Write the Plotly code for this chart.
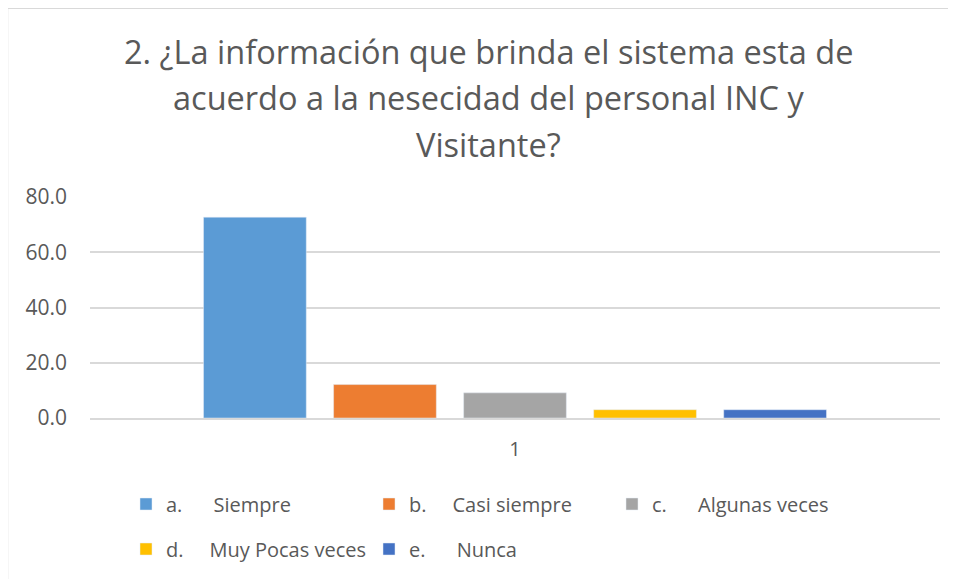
import plotly.graph_objects as go

categories = ["1"]
series_names = ["a.\u00a0\u00a0\u00a0\u00a0\u00a0 Siempre",
                "b.\u00a0\u00a0\u00a0\u00a0 Casi siempre",
                "c.\u00a0\u00a0\u00a0\u00a0\u00a0 Algunas veces",
                "d.\u00a0\u00a0\u00a0\u00a0 Muy Pocas veces",
                "e.\u00a0\u00a0\u00a0\u00a0\u00a0 Nunca"]
series_values = [72.7, 12.1, 9.1, 3.0, 3.0]
colors = ["#5B9BD5", "#ED7D31", "#A5A5A5", "#FFC000", "#4472C4"]
y_ticks = [0, 20, 40, 60, 80]
title_lines = ["2. ¿La información que brinda el sistema esta de",
               "acuerdo a la nesecidad del personal INC y",
               "Visitante?"]

FONT = "Open Sans"
TXT = "#595959"
OFF = 8  # page body margin offset

fig = go.Figure()
for i, (name, val, col) in enumerate(zip(series_names, series_values, colors)):
    fig.add_trace(go.Bar(
        x=categories, y=[val], name=name, marker_color=col,
        legend="legend" if i < 3 else "legend2",
    ))

W, H = 956 - OFF, 579 - OFF
L, R, T = 90 - OFF, 16, 197 - OFF
B = H - (419 - OFF)
pw, ph = W - L - R, H - T - B

def px_x(p):
    return (p - OFF - L) / pw

def px_y(p):
    return (H - B - (p - OFF)) / ph

annotations = []
for line, yc in zip(title_lines, [51, 97, 144]):
    annotations.append(dict(text=line, x=px_x(488), y=px_y(yc), xref="paper", yref="paper",
                            xanchor="center", yanchor="middle", showarrow=False,
                            font=dict(family=FONT, size=32.5, color=TXT)))

legend_common = dict(orientation="h", xanchor="left", yanchor="middle",
                     font=dict(family=FONT, size=20, color=TXT),
                     entrywidth=198, entrywidthmode="pixels",
                     bgcolor="rgba(0,0,0,0)", traceorder="normal")

border = dict(color="#D9D9D9", width=1.5)
fig.update_layout(
    width=W, height=H,
    margin=dict(l=L, r=R, t=T, b=B),
    paper_bgcolor="white", plot_bgcolor="white",
    barmode="group", bargap=0.235, bargroupgap=0.21,
    annotations=annotations,
    legend=dict(x=px_x(126), y=px_y(504), **legend_common),
    legend2=dict(x=px_x(126), y=px_y(549), **legend_common),
    shapes=[
        dict(type="line", xref="paper", yref="paper",
             x0=px_x(7.5), x1=px_x(990), y0=px_y(7.5), y1=px_y(7.5), line=border, layer="below"),
        dict(type="line", xref="paper", yref="paper",
             x0=px_x(7.5), x1=px_x(7.5), y0=px_y(7.5), y1=px_y(600), line=border, layer="below"),
    ],
    xaxis=dict(type="category", showgrid=False, showline=True, linecolor="#D9D9D9", linewidth=1.5,
               ticks="", ticklabelstandoff=12,
               tickfont=dict(family=FONT, size=20, color=TXT)),
    yaxis=dict(range=[0, 80], tickvals=y_ticks, tickformat=".1f",
               showgrid=True, gridcolor="#D9D9D9", gridwidth=1.5, zeroline=False,
               ticks="", ticklabelstandoff=22,
               tickfont=dict(family=FONT, size=21, color=TXT)),
)

fig.write_html("out.html")
